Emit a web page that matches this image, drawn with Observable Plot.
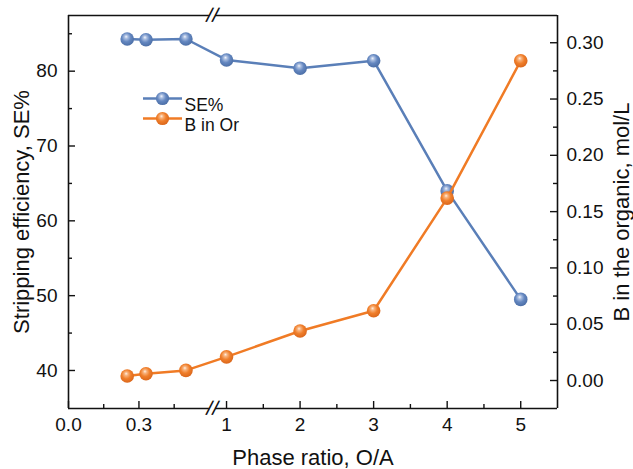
<!DOCTYPE html>
<html><head><meta charset="utf-8">
<script src="https://cdn.jsdelivr.net/npm/d3@7"></script>
<script src="https://cdn.jsdelivr.net/npm/@observablehq/plot@0.6"></script>
<style>body{margin:0;background:#fff;} svg{display:block;}</style>
</head><body><div id="chart"></div>
<script>
// ---- data ----
const phaseRatio = [0.25, 0.33, 0.5, 1, 2, 3, 4, 5];
const sePercent = [84.3, 84.2, 84.3, 81.5, 80.4, 81.4, 64.0, 49.5];
const bInOrganic = [0.004, 0.006, 0.009, 0.021, 0.044, 0.062, 0.162, 0.284];
const xTickValues = [0, 0.3, 1, 2, 3, 4, 5];
const xTickLabels = ["0.0", "0.3", "1", "2", "3", "4", "5"];
const xMinorTicks = [0.15, 0.45, 1.5, 2.5, 3.5, 4.5];
const leftTicks = [40, 50, 60, 70, 80];
const leftMinorTicks = [45, 55, 65, 75, 85];
const rightTicks = [0, 0.05, 0.10, 0.15, 0.20, 0.25, 0.30];
const rightMinorTicks = [0.025, 0.075, 0.125, 0.175, 0.225, 0.275];
const seriesNames = ["SE%", "B in Or"];
const xTitle = "Phase ratio, O/A";
const yLeftTitle = "Stripping efficiency, SE%";
const yRightTitle = "B in the organic, mol/L";

// ---- layout ----
const W = 633, H = 469;
const mT = 15, mR = 76, mB = 61, mL = 68;
const plotW = W - mL - mR, plotH = H - mT - mB;
const yDomain = [34.92, 87.44];
const xDomain = [0, 0.6, 0.85, 5.5];
const xRange = [mL, 208.9, 215, W - mR];
const bToY = d3.scaleLinear([0, 0.30], [38.66, 83.80]);
const blue = "#5a7fb8", orange = "#f07b25";
const ink = "#111";
const font = "'Liberation Sans', Arial, sans-serif";

const seData = phaseRatio.map((x, i) => ({x, y: sePercent[i]}));
const bData = phaseRatio.map((x, i) => ({x, y: bToY(bInOrganic[i])}));
const colors = [blue, orange];
const grads = ["url(#sphereBlue)", "url(#sphereOrange)"];

const lineSymbol = {draw(ctx) { ctx.moveTo(-19.5, 0); ctx.lineTo(19.5, 0); }};

const legendMarks = seriesNames.flatMap((name, i) => [
  Plot.dot([name], {frameAnchor: "top-left", dx: 94, dy: 83 + 20 * i, symbol: lineSymbol, stroke: colors[i], strokeWidth: 2.5, fill: "none"}),
  Plot.dot([name], {frameAnchor: "top-left", dx: 94, dy: 83 + 20 * i, r: 6.6, fill: grads[i]}),
  Plot.text([name], {frameAnchor: "top-left", dx: 116, dy: 83 + 20 * i, text: d => d, textAnchor: "start", fontSize: 17.5, fill: ink})
]);

const breakPts = [0.6, 0.85].flatMap(x => yDomain.map(y => ({x, y})));

const chart = Plot.plot({
  width: W, height: H,
  marginTop: mT, marginRight: mR, marginBottom: mB, marginLeft: mL,
  style: {fontFamily: font, fontSize: "19px", color: ink, background: "#fff", overflow: "visible"},
  x: {type: "linear", domain: xDomain, range: xRange},
  y: {domain: yDomain},
  marks: [
    // frame with break
    Plot.ruleX([xDomain[0], xDomain[3]], {stroke: ink, strokeWidth: 1.6}),
    Plot.ruleY(yDomain, {x1: xDomain[0], x2: xDomain[1], stroke: ink, strokeWidth: 1.6}),
    Plot.ruleY(yDomain, {x1: xDomain[2], x2: xDomain[3], stroke: ink, strokeWidth: 1.6}),
    Plot.text(breakPts, {x: "x", y: "y", text: () => "/", fontSize: 21, fill: ink, rotate: 12}),
    // inward ticks
    Plot.tickX(xTickValues, {x: d => d, insetTop: plotH - 7, stroke: ink, strokeWidth: 1.4}),
    Plot.tickX(xMinorTicks, {x: d => d, insetTop: plotH - 4, stroke: ink, strokeWidth: 1.4}),
    Plot.tickY(leftTicks, {y: d => d, insetRight: plotW - 7, stroke: ink, strokeWidth: 1.4}),
    Plot.tickY(leftMinorTicks, {y: d => d, insetRight: plotW - 4, stroke: ink, strokeWidth: 1.4}),
    Plot.tickY(rightTicks.map(bToY), {y: d => d, insetLeft: plotW - 7, stroke: ink, strokeWidth: 1.4}),
    Plot.tickY(rightMinorTicks.map(bToY), {y: d => d, insetLeft: plotW - 4, stroke: ink, strokeWidth: 1.4}),
    // tick labels
    Plot.axisX(xTickValues, {tickSize: 0, tickPadding: 9, fontSize: 19, label: null,
      tickFormat: d => xTickLabels[xTickValues.indexOf(d)]}),
    Plot.axisY(leftTicks, {anchor: "left", tickSize: 0, tickPadding: 11, fontSize: 19, label: null}),
    Plot.axisY(rightTicks.map(bToY), {anchor: "right", tickSize: 0, tickPadding: 9, fontSize: 19, label: null,
      tickFormat: d => rightTicks[rightTicks.map(bToY).indexOf(d)].toFixed(2)}),
    // titles
    Plot.text([xTitle], {frameAnchor: "bottom", dy: 56.5, text: d => d, textAnchor: "middle", fontSize: 22, fill: ink}),
    Plot.text([yLeftTitle], {frameAnchor: "left", dx: -47, rotate: -90, text: d => d, textAnchor: "middle", fontSize: 22, fill: ink}),
    Plot.text([yRightTitle], {frameAnchor: "right", dx: 64, rotate: -90, text: d => d, textAnchor: "middle", fontSize: 22, fill: ink}),
    // series
    Plot.line(seData, {x: "x", y: "y", stroke: blue, strokeWidth: 2.5}),
    Plot.dot(seData, {x: "x", y: "y", r: 6.8, fill: grads[0]}),
    Plot.line(bData, {x: "x", y: "y", stroke: orange, strokeWidth: 2.5}),
    Plot.dot(bData, {x: "x", y: "y", r: 6.8, fill: grads[1]}),
    ...legendMarks
  ]
});

const svg = d3.select(chart.tagName.toLowerCase() === "svg" ? chart : chart.querySelector("svg"));
const defs = svg.insert("defs", ":first-child");
function sphere(id, stops) {
  const g = defs.append("radialGradient").attr("id", id)
    .attr("cx", "0.45").attr("cy", "0.42").attr("r", "0.6").attr("fx", "0.42").attr("fy", "0.32");
  stops.forEach(([o, c]) => g.append("stop").attr("offset", o).attr("stop-color", c));
}
sphere("sphereBlue", [[0, "#f2f5fb"], [0.22, "#a9bde0"], [0.55, "#6487c0"], [1, "#4a6da5"]]);
sphere("sphereOrange", [[0, "#fff0e2"], [0.22, "#f8b27c"], [0.55, "#f07f2b"], [1, "#d9651a"]]);
document.getElementById("chart").appendChild(chart);
</script>
</body></html>
